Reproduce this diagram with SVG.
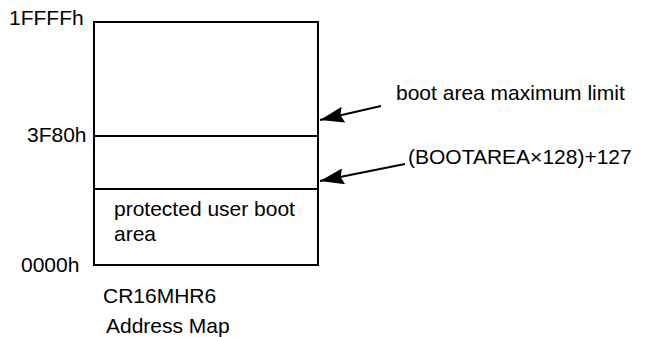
<svg xmlns="http://www.w3.org/2000/svg" width="647" height="337" viewBox="0 0 647 337">
<style>
text{font-family:"Liberation Sans",Arial,sans-serif;font-size:21px;fill:#000}
.box{fill:none;stroke:#000;stroke-width:2}
.conn{stroke:#000;stroke-width:2;fill:none}
</style>
<defs>
<marker id="ah" markerUnits="userSpaceOnUse" markerWidth="26" markerHeight="16" refX="24" refY="8" orient="auto">
<path d="M0,0 L24,8 L0,16 L3,8 Z" fill="#000"/>
</marker>
</defs>
<rect width="647" height="337" fill="#fff"/>
<g id="memory-map">
<rect class="box" x="94" y="22" width="224" height="243"/>
<line class="box" x1="94" y1="136" x2="318" y2="136"/>
<line class="box" x1="94" y1="189" x2="318" y2="189"/>
</g>
<g id="protected-area">
<text x="114" y="216">protected user boot</text>
<text x="114" y="241">area</text>
</g>
<g id="addr-labels">
<text x="9" y="25">1FFFFh</text>
<text x="27" y="142">3F80h</text>
<text x="21" y="272">0000h</text>
</g>
<g id="caption">
<text x="103" y="303">CR16MHR6</text>
<text x="106" y="333">Address Map</text>
</g>
<g id="callouts">
<text x="396" y="100">boot area maximum limit</text>
<text x="408" y="164">(BOOTAREA×128)+127</text>
</g>
<g id="connectors">
<line class="conn" x1="381" y1="106" x2="320" y2="120" marker-end="url(#ah)"/>
<line class="conn" x1="405" y1="164" x2="320" y2="181" marker-end="url(#ah)"/>
</g>
</svg>
